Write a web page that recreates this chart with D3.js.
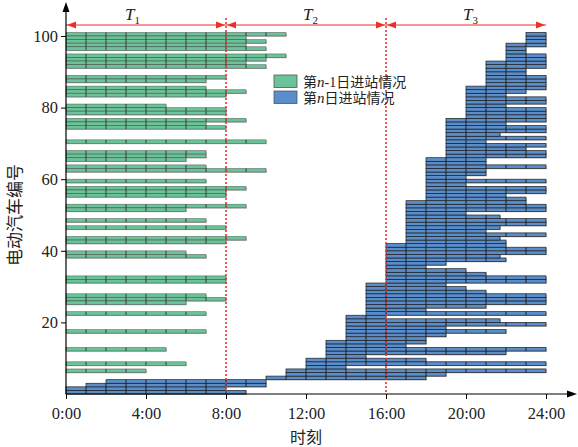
<!DOCTYPE html>
<html>
<head>
<meta charset="utf-8">
<script src="https://cdn.jsdelivr.net/npm/d3@7"></script>
<style>
  body { margin: 0; background: #fff; }
  svg { display: block; }
</style>
</head>
<body>
<script>
// --- data ---
const xTicks = [0, 4, 8, 12, 16, 20, 24];
const xTickLabels = ["0:00", "4:00", "8:00", "12:00", "16:00", "20:00", "24:00"];
const yTicks = [20, 40, 60, 80, 100];
const periods = ["1", "2", "3"];
const periodBounds = [0, 8, 16, 24];
const periodLabelX = [125, 303, 463];

// day n-1 (green): EV number and leave time, all parked from 0:00
const greenEV  = [101, 100, 99, 98, 97, 95, 94, 93, 92, 89, 88, 86, 85, 84, 81, 80, 79, 77, 76, 75, 71, 68, 67, 66, 64, 63, 60, 58, 57, 56, 53, 52, 49, 47, 44, 43, 40, 39, 33, 32, 28, 27, 26, 23, 18, 13, 9, 7];
const greenEnd = [11, 9, 10, 9, 10, 11, 10, 9, 10, 8, 7, 7, 9, 8, 5, 8, 8, 9, 7, 8, 10, 7, 7, 6, 7, 10, 7, 9, 8, 8, 9, 6, 7, 8, 9, 8, 6, 7, 8, 8, 7, 8, 6, 7, 7, 5, 6, 4];

// day n (blue): EV 1..101, arrive / leave
const blueEV = d3.range(1, 102);
const blueStart = [0, 0, 1, 2, 10, 11, 11, 12, 12, 12,
  13, 13, 13, 13, 13, 14, 14, 14, 14, 14,
  14, 14, 15, 15, 15, 15, 15, 15, 15, 15,
  15, 16, 16, 16, 16, 16, 16, 16, 16, 16,
  16, 16, 17, 17, 17, 17, 17, 17, 17, 17,
  17, 17, 17, 17, 18, 18, 18, 18, 18, 18,
  18, 18, 18, 18, 18, 18, 19, 19, 19, 19,
  19, 19, 19, 19, 19, 19, 19, 20, 20, 20,
  20, 20, 20, 20, 20, 20, 21, 21, 21, 21,
  21, 21, 21, 22, 22, 22, 22, 22, 23, 23, 23];
const blueEnd = [9, 8, 10, 10, 18, 19, 24, 14, 24, 18,
  15, 22, 24, 17, 18, 18, 19, 22, 19, 24,
  21.7, 16, 24, 18, 21, 24, 24, 24, 21, 20,
  19, 24, 24, 21, 20, 18, 19, 22, 21.7, 24,
  24, 22, 22, 21.7, 24, 21, 21.7, 24, 24, 21.7,
  20, 24, 24, 23, 23, 22, 24, 24, 20, 24,
  20, 21, 21, 24, 21, 21, 24, 24, 23, 24,
  21, 24, 21.7, 24, 24, 22, 24, 24, 24, 24,
  22, 24, 24, 22, 23, 24, 24, 24, 24, 23,
  23, 24, 24, 24, 24, 23, 23, 24, 24, 24, 24];

const greenFill = "#6cc299";
const blueFill = "#5a8ecb";
const serif = "'Liberation Serif', 'Times New Roman', serif";
const cjk = "'Liberation Serif', 'Noto Sans CJK SC', serif";

const width = 578, height = 447;
const x = d3.scaleLinear().domain([0, 24]).range([66, 546]);
const y = d3.scaleLinear().domain([0, 100]).range([394, 36]);

const svg = d3.select("body").append("svg")
    .attr("width", width)
    .attr("height", height)
    .style("font-family", serif);

function drawBars(rows, fill, edge, dividerColor) {
    const g = svg.append("g");
    // soft grey shadow under each bar
    g.selectAll("rect.shadow")
        .data(rows)
        .enter().append("rect")
        .attr("class", "shadow")
        .attr("x", d => x(d.s) + 0.8)
        .attr("y", d => y(d.ev) + 0.8)
        .attr("width", d => x(d.e) - x(d.s))
        .attr("height", d => y(d.ev - 1) - y(d.ev))
        .attr("fill", "#b5b5b5");
    g.selectAll("rect.bar")
        .data(rows)
        .enter().append("rect")
        .attr("class", "bar")
        .attr("x", d => x(d.s))
        .attr("y", d => y(d.ev))
        .attr("width", d => x(d.e) - x(d.s))
        .attr("height", d => y(d.ev - 1) - y(d.ev))
        .attr("fill", fill)
        .attr("stroke", edge)
        .attr("stroke-width", 0.7);
    // hourly dividers inside each bar
    const divs = [];
    rows.forEach(d => {
        for (let h = Math.floor(d.s) + 1; h < d.e; h++) {
            divs.push({ev: d.ev, h: h});
        }
    });
    g.selectAll("line.div")
        .data(divs)
        .enter().append("line")
        .attr("x1", d => x(d.h)).attr("x2", d => x(d.h))
        .attr("y1", d => y(d.ev)).attr("y2", d => y(d.ev - 1))
        .attr("stroke", dividerColor)
        .attr("stroke-width", 1);
}

const greenRows = greenEV.map((ev, i) => ({ev: ev, s: 0, e: greenEnd[i]}));
const blueRows = blueEV.map((ev, i) => ({ev: ev, s: blueStart[i], e: blueEnd[i]}));

drawBars(greenRows, greenFill, "rgba(50,50,50,0.55)", "#3a3a3a");
drawBars(blueRows, blueFill, "#1e1e1e", "#1e1e1e");

// red dotted period boundaries
svg.selectAll("line.period")
    .data([8, 16])
    .enter().append("line")
    .attr("x1", d => x(d)).attr("x2", d => x(d))
    .attr("y1", 18).attr("y2", y(0))
    .attr("stroke", "#e8332b")
    .attr("stroke-width", 1.6)
    .attr("stroke-dasharray", "2,2");

// red arrows across the top
const arrowY = 25;
svg.append("line")
    .attr("x1", x(0)).attr("x2", x(24))
    .attr("y1", arrowY).attr("y2", arrowY)
    .attr("stroke", "#e8332b").attr("stroke-width", 1.2);

function arrowHead(tipX, tipY, dir, color) {
    const L = 9, W = 3.5;
    svg.append("path")
        .attr("d", `M${tipX},${tipY} L${tipX - dir * L},${tipY - W} L${tipX - dir * L},${tipY + W} Z`)
        .attr("fill", color);
}
periods.forEach((p, i) => {
    arrowHead(x(periodBounds[i]) + 1, arrowY, -1, "#e8332b");
    arrowHead(x(periodBounds[i + 1]) - 1, arrowY, 1, "#e8332b");
    const t = svg.append("text")
        .attr("x", periodLabelX[i])
        .attr("y", 20)
        .style("font-family", serif)
        .style("font-size", "17px")
        .style("font-style", "italic")
        .attr("fill", "#222")
        .text("T");
    t.append("tspan")
        .attr("dy", 4)
        .style("font-size", "11px")
        .style("font-style", "normal")
        .text(p);
});

// axes
const xAxis = d3.axisBottom(x).tickValues(xTicks)
    .tickFormat((d, i) => xTickLabels[i]).tickSize(5).tickSizeOuter(0);
const gx = svg.append("g")
    .attr("transform", `translate(0,${y(0)})`)
    .call(xAxis);
gx.select(".domain").remove();
gx.selectAll("text")
    .style("font-family", serif)
    .style("font-size", "16.5px")
    .attr("fill", "#222")
    .attr("dy", "1.05em");

const yAxis = d3.axisLeft(y).tickValues(yTicks).tickSize(5).tickSizeOuter(0);
const gy = svg.append("g")
    .attr("transform", `translate(${x(0)},0)`)
    .call(yAxis);
gy.select(".domain").remove();
gy.selectAll("text")
    .style("font-family", serif)
    .style("font-size", "16.5px")
    .attr("fill", "#222");

svg.append("line")
    .attr("x1", x(0)).attr("x2", 570)
    .attr("y1", y(0)).attr("y2", y(0))
    .attr("stroke", "#000").attr("stroke-width", 1.2);
svg.append("path")
    .attr("d", `M577,${y(0)} L567,${y(0) - 3.5} L567,${y(0) + 3.5} Z`)
    .attr("fill", "#000");
svg.append("line")
    .attr("x1", x(0)).attr("x2", x(0))
    .attr("y1", y(0)).attr("y2", 10)
    .attr("stroke", "#000").attr("stroke-width", 1.2);
svg.append("path")
    .attr("d", `M${x(0)},2 L${x(0) - 3.5},12 L${x(0) + 3.5},12 Z`)
    .attr("fill", "#000");

// axis titles
svg.append("text")
    .attr("x", x(12))
    .attr("y", 443)
    .attr("text-anchor", "middle")
    .style("font-family", cjk)
    .style("font-size", "16px")
    .attr("fill", "#222")
    .text("时刻");
svg.append("text")
    .attr("transform", `translate(21,${y(50)}) rotate(-90)`)
    .attr("text-anchor", "middle")
    .style("font-family", cjk)
    .style("font-size", "17px")
    .attr("fill", "#222")
    .text("电动汽车编号");

// legend
const legendItems = [
    {fill: greenFill, pre: "第", n: "n", post: "-1日进站情况"},
    {fill: blueFill, pre: "第", n: "n", post: "日进站情况"}
];
const lg = svg.append("g").attr("transform", "translate(274,75)");
legendItems.forEach((d, i) => {
    lg.append("rect")
        .attr("x", 0).attr("y", i * 16)
        .attr("width", 23).attr("height", 12.5)
        .attr("fill", d.fill)
        .attr("stroke", "#555").attr("stroke-width", 0.8);
    const t = lg.append("text")
        .attr("x", 29).attr("y", i * 16 + 11.5)
        .style("font-family", cjk)
        .style("font-size", "14px")
        .attr("fill", "#222");
    t.append("tspan").text(d.pre);
    t.append("tspan")
        .style("font-style", "italic")
        .style("font-size", "15px")
        .text(d.n);
    t.append("tspan").text(d.post);
});
</script>
</body>
</html>
